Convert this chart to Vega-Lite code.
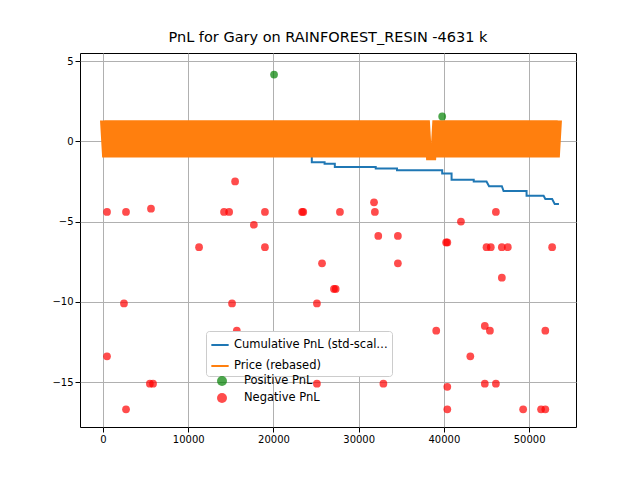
{
  "$schema": "https://vega.github.io/schema/vega-lite/v6.json",
  "width": 496,
  "height": 374,
  "autosize": "none",
  "padding": {"left": 80, "top": 53, "right": 64, "bottom": 53},
  "title": {"text": "PnL for Gary on RAINFOREST_RESIN -4631 k", "fontSize": 14.5, "fontWeight": "normal", "font": "DejaVu Sans", "offset": 8},
  "config": {
    "font": "DejaVu Sans",
    "view": {"stroke": "black"},
    "axis": {"grid": true, "gridColor": "#b0b0b0", "domain": false, "tickColor": "black", "labelColor": "black", "labelFontSize": 10, "title": null, "format": "d"}
  },
  "datasets": {
    "price": [
      {"x":0,"p":1.3},{"x":250,"p":-1.0},{"x":500,"p":1.3},{"x":750,"p":-1.0},{"x":1000,"p":1.3},{"x":1250,"p":-1.0},{"x":1500,"p":1.3},{"x":1750,"p":-1.0},{"x":2000,"p":1.3},{"x":2250,"p":-1.0},
      {"x":2500,"p":1.3},{"x":2750,"p":-1.0},{"x":3000,"p":1.3},{"x":3250,"p":-1.0},{"x":3500,"p":1.3},{"x":3750,"p":-1.0},{"x":4000,"p":1.3},{"x":4250,"p":-1.0},{"x":4500,"p":1.3},{"x":4750,"p":-1.0},
      {"x":5000,"p":1.3},{"x":5250,"p":-1.0},{"x":5500,"p":1.3},{"x":5750,"p":-1.0},{"x":6000,"p":1.3},{"x":6250,"p":-1.0},{"x":6500,"p":1.3},{"x":6750,"p":-1.0},{"x":7000,"p":1.3},{"x":7250,"p":-1.0},
      {"x":7500,"p":1.3},{"x":7750,"p":-1.0},{"x":8000,"p":1.3},{"x":8250,"p":-1.0},{"x":8500,"p":1.3},{"x":8750,"p":-1.0},{"x":9000,"p":1.3},{"x":9250,"p":-1.0},{"x":9500,"p":1.3},{"x":9750,"p":-1.0},
      {"x":10000,"p":1.3},{"x":10250,"p":-1.0},{"x":10500,"p":1.3},{"x":10750,"p":-1.0},{"x":11000,"p":1.3},{"x":11250,"p":-1.0},{"x":11500,"p":1.3},{"x":11750,"p":-1.0},{"x":12000,"p":1.3},{"x":12250,"p":-1.0},
      {"x":12500,"p":1.3},{"x":12750,"p":-1.0},{"x":13000,"p":1.3},{"x":13250,"p":-1.0},{"x":13500,"p":1.3},{"x":13750,"p":-1.0},{"x":14000,"p":1.3},{"x":14250,"p":-1.0},{"x":14500,"p":1.3},{"x":14750,"p":-1.0},
      {"x":15000,"p":1.3},{"x":15250,"p":-1.0},{"x":15500,"p":1.3},{"x":15750,"p":-1.0},{"x":16000,"p":1.3},{"x":16250,"p":-1.0},{"x":16500,"p":1.3},{"x":16750,"p":-1.0},{"x":17000,"p":1.3},{"x":17250,"p":-1.0},
      {"x":17500,"p":1.3},{"x":17750,"p":-1.0},{"x":18000,"p":1.3},{"x":18250,"p":-1.0},{"x":18500,"p":1.3},{"x":18750,"p":-1.0},{"x":19000,"p":1.3},{"x":19250,"p":-1.0},{"x":19500,"p":1.3},{"x":19750,"p":-1.0},
      {"x":20000,"p":1.3},{"x":20250,"p":-1.0},{"x":20500,"p":1.3},{"x":20750,"p":-1.0},{"x":21000,"p":1.3},{"x":21250,"p":-1.0},{"x":21500,"p":1.3},{"x":21750,"p":-1.0},{"x":22000,"p":1.3},{"x":22250,"p":-1.0},
      {"x":22500,"p":1.3},{"x":22750,"p":-1.0},{"x":23000,"p":1.3},{"x":23250,"p":-1.0},{"x":23500,"p":1.3},{"x":23750,"p":-1.0},{"x":24000,"p":1.3},{"x":24250,"p":-1.0},{"x":24500,"p":1.3},{"x":24750,"p":-1.0},
      {"x":25000,"p":1.3},{"x":25250,"p":-1.0},{"x":25500,"p":1.3},{"x":25750,"p":-1.0},{"x":26000,"p":1.3},{"x":26250,"p":-1.0},{"x":26500,"p":1.3},{"x":26750,"p":-1.0},{"x":27000,"p":1.3},{"x":27250,"p":-1.0},
      {"x":27500,"p":1.3},{"x":27750,"p":-1.0},{"x":28000,"p":1.3},{"x":28250,"p":-1.0},{"x":28500,"p":1.3},{"x":28750,"p":-1.0},{"x":29000,"p":1.3},{"x":29250,"p":-1.0},{"x":29500,"p":1.3},{"x":29750,"p":-1.0},
      {"x":30000,"p":1.3},{"x":30250,"p":-1.0},{"x":30500,"p":1.3},{"x":30750,"p":-1.0},{"x":31000,"p":1.3},{"x":31250,"p":-1.0},{"x":31500,"p":1.3},{"x":31750,"p":-1.0},{"x":32000,"p":1.3},{"x":32250,"p":-1.0},
      {"x":32500,"p":1.3},{"x":32750,"p":-1.0},{"x":33000,"p":1.3},{"x":33250,"p":-1.0},{"x":33500,"p":1.3},{"x":33750,"p":-1.0},{"x":34000,"p":1.3},{"x":34250,"p":-1.0},{"x":34500,"p":1.3},{"x":34750,"p":-1.0},
      {"x":35000,"p":1.3},{"x":35250,"p":-1.0},{"x":35500,"p":1.3},{"x":35750,"p":-1.0},{"x":36000,"p":1.3},{"x":36250,"p":-1.0},{"x":36500,"p":1.3},{"x":36750,"p":-1.0},{"x":37000,"p":1.3},{"x":37250,"p":-1.0},
      {"x":37500,"p":1.3},{"x":37750,"p":-1.0},{"x":38000,"p":1.3},{"x":38250,"p":-1.0},{"x":38750,"p":-1.0},{"x":39000,"p":1.3},{"x":39250,"p":-1.0},{"x":39500,"p":1.3},{"x":39750,"p":-1.0},
      {"x":40000,"p":1.3},{"x":40250,"p":-1.0},{"x":40500,"p":1.3},{"x":40750,"p":-1.0},{"x":41000,"p":1.3},{"x":41250,"p":-1.0},{"x":41500,"p":1.3},{"x":41750,"p":-1.0},{"x":42000,"p":1.3},{"x":42250,"p":-1.0},
      {"x":42500,"p":1.3},{"x":42750,"p":-1.0},{"x":43000,"p":1.3},{"x":43250,"p":-1.0},{"x":43500,"p":1.3},{"x":43750,"p":-1.0},{"x":44000,"p":1.3},{"x":44250,"p":-1.0},{"x":44500,"p":1.3},{"x":44750,"p":-1.0},
      {"x":45000,"p":1.3},{"x":45250,"p":-1.0},{"x":45500,"p":1.3},{"x":45750,"p":-1.0},{"x":46000,"p":1.3},{"x":46250,"p":-1.0},{"x":46500,"p":1.3},{"x":46750,"p":-1.0},{"x":47000,"p":1.3},{"x":47250,"p":-1.0},
      {"x":47500,"p":1.3},{"x":47750,"p":-1.0},{"x":48000,"p":1.3},{"x":48250,"p":-1.0},{"x":48500,"p":1.3},{"x":48750,"p":-1.0},{"x":49000,"p":1.3},{"x":49250,"p":-1.0},{"x":49500,"p":1.3},{"x":49750,"p":-1.0},
      {"x":50000,"p":1.3},{"x":50250,"p":-1.0},{"x":50500,"p":1.3},{"x":50750,"p":-1.0},{"x":51000,"p":1.3},{"x":51250,"p":-1.0},{"x":51500,"p":1.3},{"x":51750,"p":-1.0},{"x":52000,"p":1.3},{"x":52250,"p":-1.0},
      {"x":52500,"p":1.3},{"x":52750,"p":-1.0},{"x":53000,"p":1.3},{"x":53250,"p":-1.0},{"x":53500,"p":1.3}
    ],
    "cum": [
      {"x":0,"c":0},{"x":24500,"c":0},{"x":24500,"c":-1.3},{"x":26000,"c":-1.3},{"x":26000,"c":-1.4},{"x":27200,"c":-1.4},{"x":27200,"c":-1.6},
      {"x":32000,"c":-1.6},{"x":32000,"c":-1.7},{"x":34500,"c":-1.7},{"x":34500,"c":-1.8},{"x":39800,"c":-1.8},{"x":39800,"c":-2.0},
      {"x":40900,"c":-2.0},{"x":40900,"c":-2.4},{"x":43500,"c":-2.4},{"x":43500,"c":-2.5},{"x":45000,"c":-2.5},{"x":45300,"c":-2.8},
      {"x":46800,"c":-2.8},{"x":47000,"c":-3.1},{"x":49700,"c":-3.1},{"x":49700,"c":-3.4},{"x":51700,"c":-3.4},{"x":51900,"c":-3.6},
      {"x":52700,"c":-3.6},{"x":53000,"c":-3.9},{"x":53500,"c":-3.9}
    ],
    "pts": [
      {"x":20070,"v":4.16,"k":"Positive PnL"},{"x":39800,"v":1.55,"k":"Positive PnL"},
      {"x":470,"v":-4.4,"k":"Negative PnL"},{"x":470,"v":-13.4,"k":"Negative PnL"},{"x":2460,"v":-10.1,"k":"Negative PnL"},
      {"x":2700,"v":-4.4,"k":"Negative PnL"},{"x":2700,"v":-16.7,"k":"Negative PnL"},{"x":5500,"v":-15.1,"k":"Negative PnL"},
      {"x":5870,"v":-15.1,"k":"Negative PnL"},{"x":5630,"v":-4.2,"k":"Negative PnL"},{"x":11270,"v":-6.6,"k":"Negative PnL"},
      {"x":14200,"v":-4.4,"k":"Negative PnL"},{"x":14800,"v":-4.4,"k":"Negative PnL"},{"x":15140,"v":-10.1,"k":"Negative PnL"},
      {"x":15500,"v":-2.5,"k":"Negative PnL"},{"x":15700,"v":-11.8,"k":"Negative PnL"},{"x":17700,"v":-5.2,"k":"Negative PnL"},
      {"x":19000,"v":-4.4,"k":"Negative PnL"},{"x":19000,"v":-6.6,"k":"Negative PnL"},{"x":23360,"v":-4.4,"k":"Negative PnL"},
      {"x":23500,"v":-4.4,"k":"Negative PnL"},{"x":25100,"v":-15.1,"k":"Negative PnL"},{"x":25100,"v":-10.1,"k":"Negative PnL"},
      {"x":25700,"v":-7.6,"k":"Negative PnL"},{"x":27100,"v":-9.2,"k":"Negative PnL"},{"x":27300,"v":-9.2,"k":"Negative PnL"},
      {"x":27800,"v":-4.4,"k":"Negative PnL"},{"x":31800,"v":-3.8,"k":"Negative PnL"},{"x":31900,"v":-4.4,"k":"Negative PnL"},
      {"x":32300,"v":-5.9,"k":"Negative PnL"},{"x":32900,"v":-15.1,"k":"Negative PnL"},{"x":34600,"v":-5.9,"k":"Negative PnL"},
      {"x":34600,"v":-7.6,"k":"Negative PnL"},{"x":39100,"v":-11.8,"k":"Negative PnL"},{"x":40260,"v":-6.3,"k":"Negative PnL"},
      {"x":40400,"v":-6.3,"k":"Negative PnL"},{"x":40400,"v":-15.3,"k":"Negative PnL"},{"x":40400,"v":-16.7,"k":"Negative PnL"},
      {"x":42000,"v":-5.0,"k":"Negative PnL"},{"x":43100,"v":-13.4,"k":"Negative PnL"},{"x":44800,"v":-11.5,"k":"Negative PnL"},
      {"x":45000,"v":-6.6,"k":"Negative PnL"},{"x":44800,"v":-15.1,"k":"Negative PnL"},{"x":45400,"v":-11.8,"k":"Negative PnL"},
      {"x":45500,"v":-6.6,"k":"Negative PnL"},{"x":46100,"v":-4.4,"k":"Negative PnL"},{"x":46100,"v":-15.1,"k":"Negative PnL"},
      {"x":46800,"v":-6.6,"k":"Negative PnL"},{"x":46800,"v":-8.5,"k":"Negative PnL"},{"x":47500,"v":-6.6,"k":"Negative PnL"},
      {"x":49300,"v":-16.7,"k":"Negative PnL"},{"x":51400,"v":-16.7,"k":"Negative PnL"},{"x":51900,"v":-16.7,"k":"Negative PnL"},
      {"x":51900,"v":-11.8,"k":"Negative PnL"},{"x":52700,"v":-6.6,"k":"Negative PnL"}
    ]
  },
  "encoding": {
    "x": {"type": "quantitative", "scale": {"domain": [-2700, 55500], "nice": false, "zero": false}, "axis": {"values": [0, 10000, 20000, 30000, 40000, 50000]}},
    "y": {"type": "quantitative", "scale": {"domain": [-17.8, 5.5], "nice": false, "zero": false}, "axis": {"values": [5, 0, -5, -10, -15]}}
  },
  "layer": [
    {
      "data": {"name": "cum"},
      "mark": {"type": "line", "strokeWidth": 2},
      "encoding": {
        "x": {"field": "x"},
        "y": {"field": "c"},
        "stroke": {"datum": "Cumulative PnL (std-scaled)", "type": "nominal",
          "scale": {"domain": ["Cumulative PnL (std-scaled)", "Price (rebased)"], "range": ["#1f77b4", "#ff7f0e"]},
          "legend": {"orient": "none", "legendX": 126, "legendY": 278, "symbolType": "stroke", "symbolStrokeWidth": 2, "labelFontSize": 11.5, "title": null, "padding": 4, "rowPadding": 5, "symbolSize": 300, "strokeColor": "#cccccc", "fillColor": "white", "cornerRadius": 3}}
      }
    },
    {
      "data": {"name": "price"},
      "mark": {"type": "line", "strokeWidth": 6, "color": "#ff7f0e"},
      "encoding": {"x": {"field": "x"}, "y": {"field": "p"}, "order": {"field": "x"}}
    },
    {
      "data": {"name": "pts"},
      "mark": {"type": "circle", "size": 60, "opacity": 0.7},
      "encoding": {
        "x": {"field": "x"},
        "y": {"field": "v"},
        "fill": {"field": "k", "type": "nominal",
          "scale": {"domain": ["Positive PnL", "Negative PnL"], "range": ["green", "red"]},
          "legend": {"orient": "none", "legendX": 136, "legendY": 322, "symbolType": "circle", "labelFontSize": 11.5, "title": null, "padding": 0, "rowPadding": 5, "symbolOpacity": 0.7, "labelOffset": 16}}
      }
    }
  ]
}
